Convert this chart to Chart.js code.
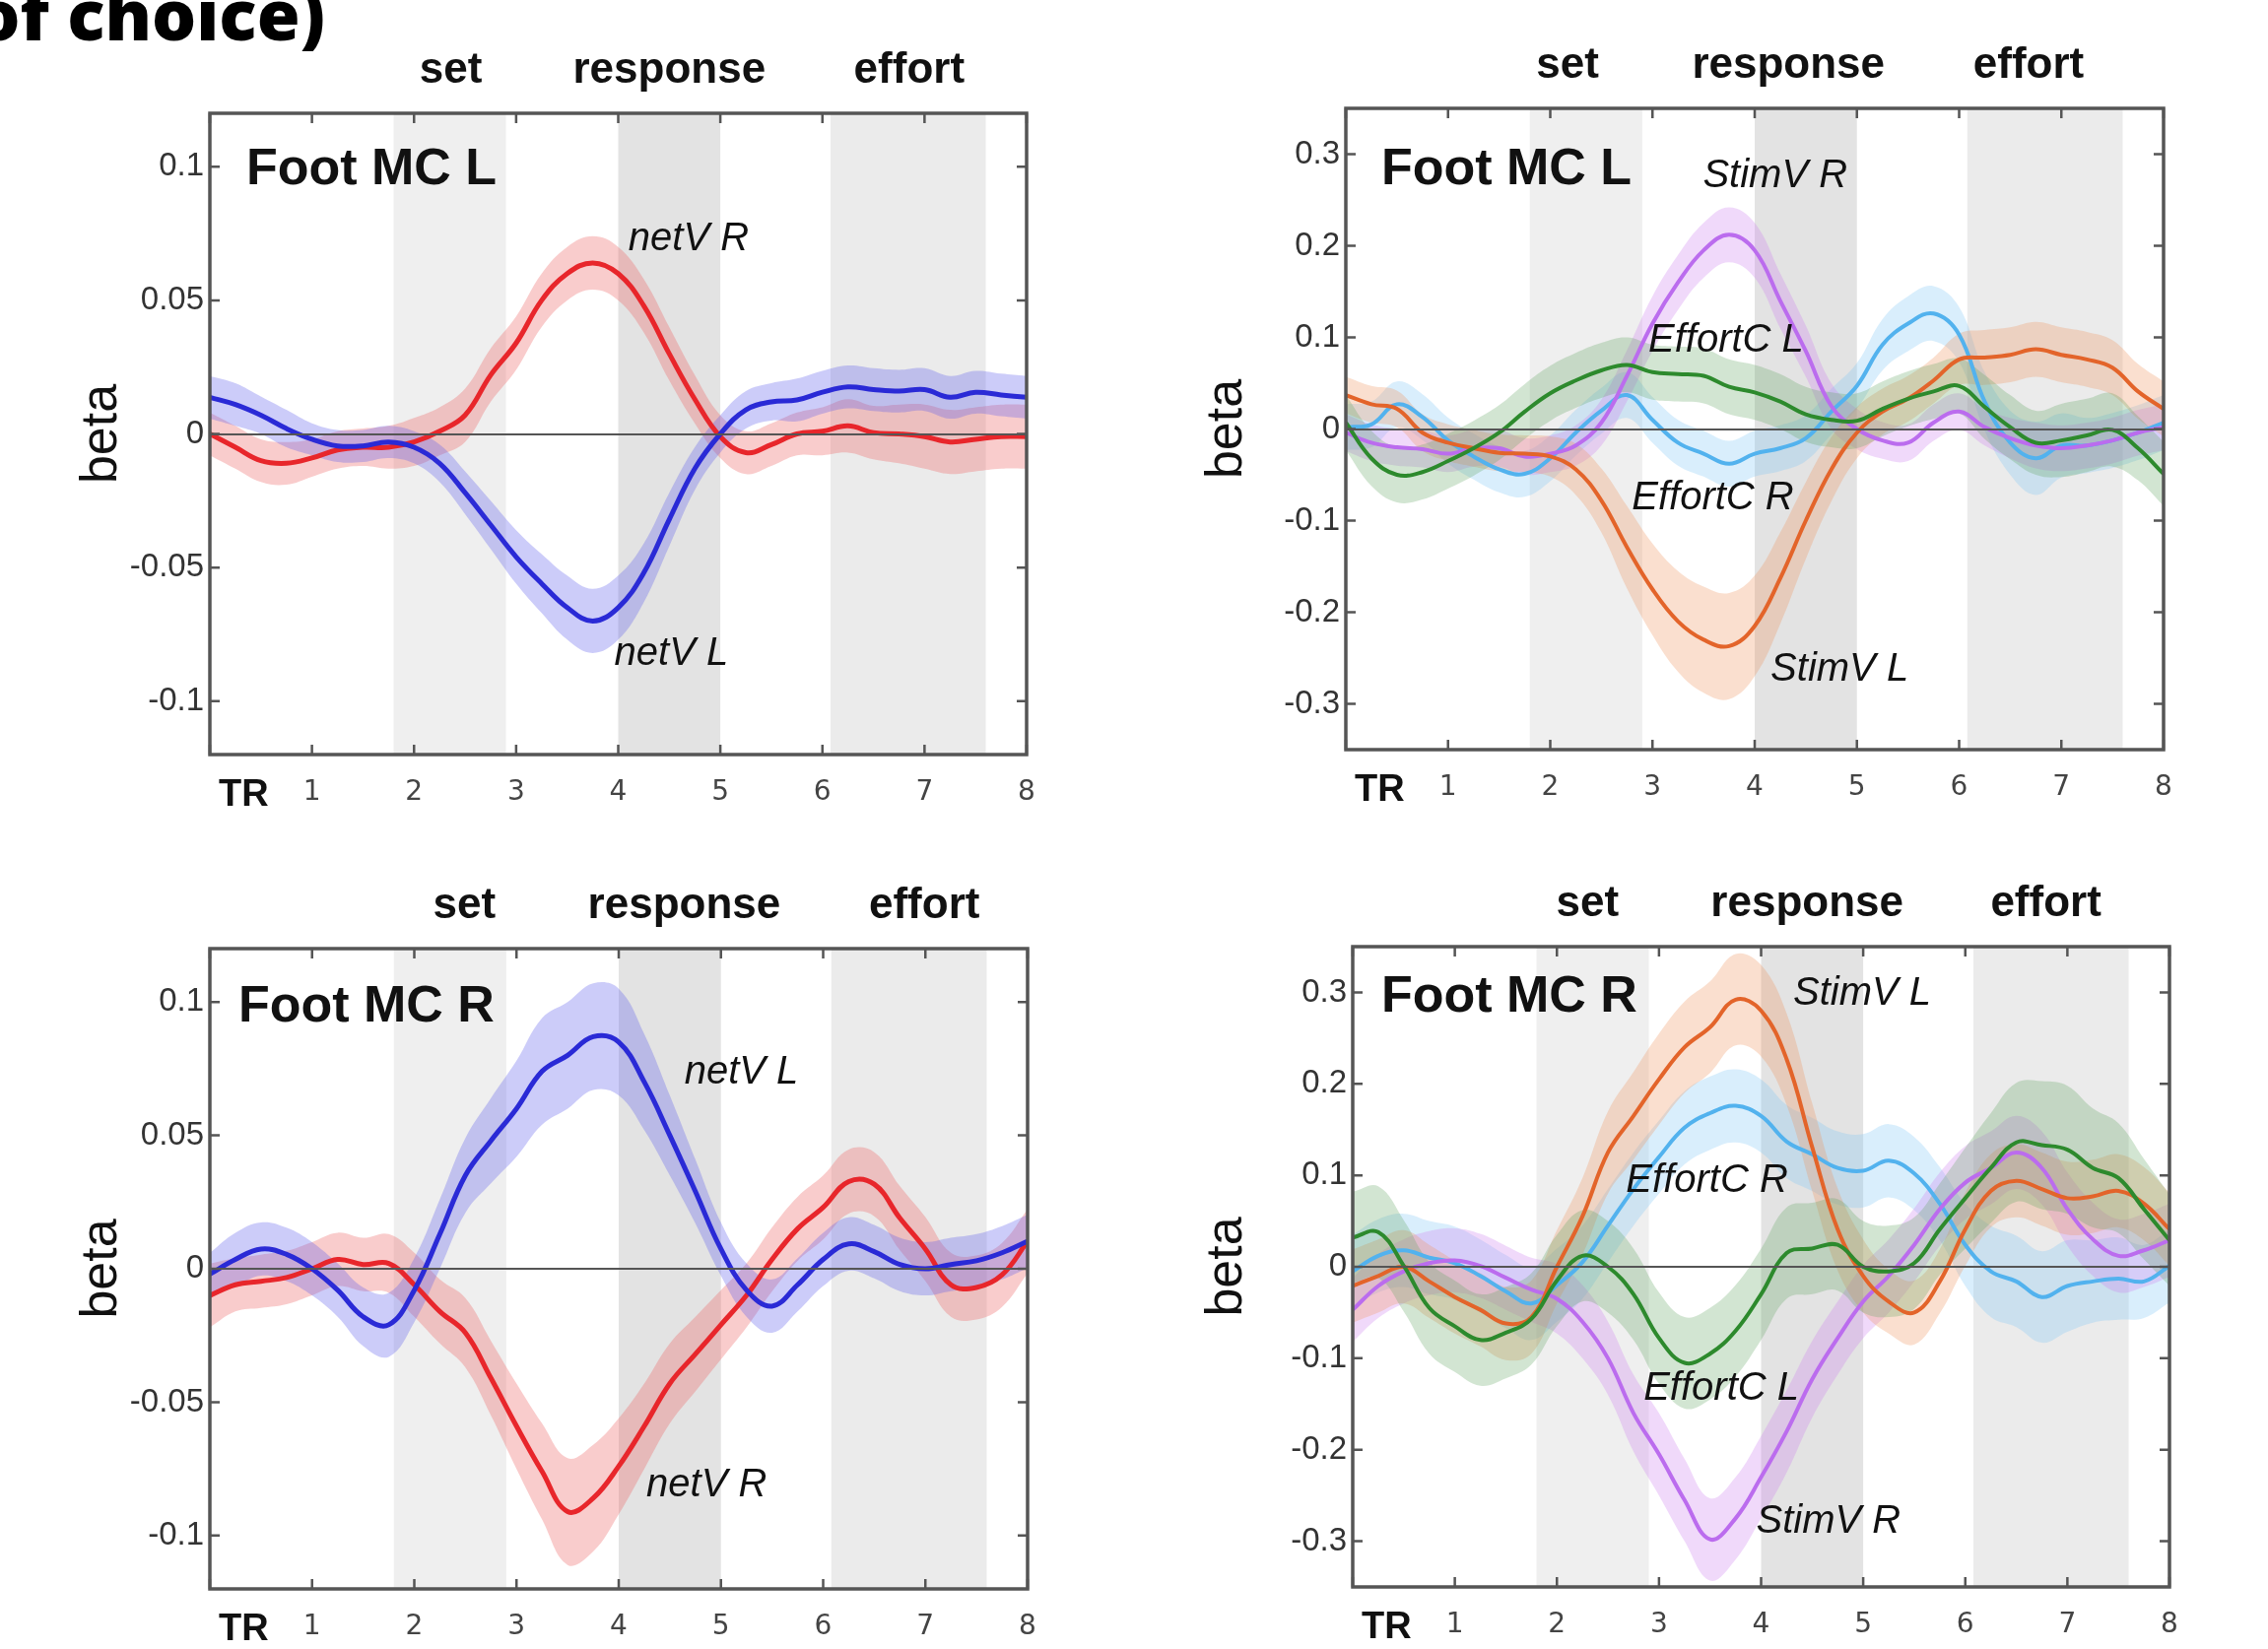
<!DOCTYPE html>
<html>
<head>
<meta charset="utf-8">
<script src="https://cdn.jsdelivr.net/npm/chart.js@4.4.1/dist/chart.umd.min.js"></script>
<style>
  html, body { margin: 0; padding: 0; background: #fff; width: 2302px; height: 1674px; overflow: hidden; position: relative; }
  .panel { position: absolute; }
  #caption { position: absolute; right: 1972px; top: -21px; font: 800 71px/70px "Open Sans", sans-serif; color: #000; white-space: nowrap; }
</style>
</head>
<body>
<div id="caption">of choice)</div>
<div class="panel" style="left:13px;top:0px;width:1061px;height:826px"><canvas id="tl"></canvas></div>
<div class="panel" style="left:1166px;top:0px;width:1062px;height:821px"><canvas id="tr"></canvas></div>
<div class="panel" style="left:13px;top:853px;width:1062px;height:820px"><canvas id="bl"></canvas></div>
<div class="panel" style="left:1173px;top:851px;width:1061px;height:820px"><canvas id="br"></canvas></div>
<script>
// time axis (TR)
const trTimes = [0, 0.25, 0.5, 0.75, 1, 1.25, 1.5, 1.75, 2, 2.25, 2.5, 2.75, 3, 3.25, 3.5, 3.75, 4,
  4.25, 4.5, 4.75, 5, 5.25, 5.5, 5.75, 6, 6.25, 6.5, 6.75, 7, 7.25, 7.5, 7.75, 8];
const trTicks = [0, 1, 2, 3, 4, 5, 6, 7, 8];
const trTickLabels = ["", "1", "2", "3", "4", "5", "6", "7", "8"];

const smallTicks = [-0.1, -0.05, 0, 0.05, 0.1];
const smallTickLabels = ["-0.1", "-0.05", "0", "0.05", "0.1"];
const bigTicks = [-0.3, -0.2, -0.1, 0, 0.1, 0.2, 0.3];
const bigTickLabels = ["-0.3", "-0.2", "-0.1", "0", "0.1", "0.2", "0.3"];

// epochs
const setSpan = [1.8, 2.9];
const responseSpan = [4.0, 5.0];
const effortSpan = [6.08, 7.6];

// Foot MC L, netV
const tlNetVR = [0, -0.005, -0.01, -0.011, -0.009, -0.006, -0.005, -0.005, -0.003, 0.001, 0.007, 0.022, 0.034,
  0.05, 0.06, 0.064, 0.06, 0.048, 0.03, 0.013, -0.001, -0.007, -0.004, 0, 0.001, 0.003, 0.0005, 0, -0.001,
  -0.003, -0.002, -0.001, -0.001];
const tlNetVRErr = [0.008, 0.008, 0.008, 0.008, 0.007, 0.007, 0.007, 0.008, 0.009, 0.009, 0.01, 0.01, 0.01,
  0.01, 0.01, 0.01, 0.01, 0.01, 0.01, 0.009, 0.008, 0.008, 0.008, 0.008, 0.009, 0.01, 0.01, 0.011, 0.012,
  0.012, 0.012, 0.012, 0.012];
const tlNetVL = [0.0137, 0.011, 0.007, 0.002, -0.002, -0.0045, -0.0045, -0.003, -0.005, -0.011, -0.022, -0.034,
  -0.046, -0.056, -0.065, -0.07, -0.065, -0.052, -0.032, -0.013, 0, 0.009, 0.012, 0.0127, 0.0156, 0.0176,
  0.0166, 0.016, 0.0166, 0.0137, 0.0156, 0.0146, 0.0137];
const tlNetVLErr = [0.008, 0.008, 0.007, 0.007, 0.006, 0.006, 0.006, 0.006, 0.006, 0.007, 0.008, 0.009, 0.01,
  0.011, 0.012, 0.012, 0.012, 0.011, 0.01, 0.008, 0.007, 0.007, 0.007, 0.008, 0.008, 0.008, 0.008, 0.008,
  0.008, 0.008, 0.008, 0.008, 0.008];

// Foot MC L, stim value / effort cost
const trStimVR = [-0.004, -0.015, -0.02, -0.022, -0.027, -0.021, -0.021, -0.03, -0.027, -0.018, 0.007, 0.058,
  0.115, 0.16, 0.195, 0.212, 0.195, 0.14, 0.085, 0.025, 0, -0.0125, -0.015, 0.007, 0.019, 0.002, -0.01,
  -0.018, -0.021, -0.018, -0.0125, -0.004, 0.002];
const trStimVRErr = [0.02, 0.02, 0.02, 0.02, 0.02, 0.02, 0.02, 0.02, 0.02, 0.022, 0.025, 0.028, 0.03, 0.03,
  0.03, 0.03, 0.03, 0.03, 0.028, 0.025, 0.022, 0.02, 0.02, 0.02, 0.02, 0.02, 0.022, 0.025, 0.025, 0.025,
  0.025, 0.025, 0.025];
const trStimVL = [0.037, 0.027, 0.022, -0.004, -0.015, -0.021, -0.026, -0.027, -0.03, -0.044, -0.078, -0.129,
  -0.175, -0.21, -0.23, -0.237, -0.215, -0.163, -0.1, -0.044, -0.004, 0.019, 0.033, 0.053, 0.076, 0.078,
  0.081, 0.087, 0.081, 0.076, 0.067, 0.041, 0.022];
const trStimVLErr = [0.02, 0.02, 0.02, 0.02, 0.02, 0.02, 0.02, 0.02, 0.022, 0.028, 0.035, 0.045, 0.05, 0.055,
  0.058, 0.058, 0.055, 0.05, 0.042, 0.035, 0.028, 0.025, 0.025, 0.025, 0.028, 0.03, 0.03, 0.03, 0.03, 0.03,
  0.03, 0.03, 0.03];
const trEffortCL = [0.007, -0.032, -0.05, -0.047, -0.035, -0.021, -0.004, 0.019, 0.039, 0.053, 0.064, 0.07,
  0.062, 0.06, 0.058, 0.046, 0.04, 0.03, 0.016, 0.01, 0.009, 0.022, 0.033, 0.041, 0.047, 0.024, 0.002,
  -0.015, -0.0125, -0.007, -0.001, -0.021, -0.049];
const trEffortCLErr = [0.03, 0.03, 0.03, 0.03, 0.03, 0.03, 0.03, 0.03, 0.03, 0.03, 0.03, 0.03, 0.03, 0.03,
  0.03, 0.03, 0.03, 0.03, 0.03, 0.03, 0.03, 0.03, 0.03, 0.03, 0.03, 0.035, 0.035, 0.035, 0.04, 0.04, 0.04,
  0.035, 0.035];
const trEffortCR = [0.002, 0.005, 0.027, 0.013, -0.0125, -0.03, -0.044, -0.049, -0.032, -0.004, 0.02, 0.037,
  0.01, -0.015, -0.027, -0.038, -0.027, -0.021, -0.01, 0.019, 0.047, 0.092, 0.115, 0.126, 0.103, 0.03,
  -0.015, -0.032, -0.018, -0.018, -0.0125, -0.004, 0.007];
const trEffortCRErr = [0.025, 0.025, 0.025, 0.025, 0.025, 0.025, 0.025, 0.025, 0.025, 0.025, 0.025, 0.025,
  0.025, 0.025, 0.025, 0.025, 0.025, 0.025, 0.025, 0.025, 0.025, 0.028, 0.03, 0.03, 0.03, 0.032, 0.035,
  0.04, 0.035, 0.03, 0.03, 0.03, 0.03];

// Foot MC R, netV
const blNetVL = [-0.002, 0.0035, 0.0074, 0.0054, 0, -0.008, -0.018, -0.021, -0.008, 0.013, 0.035, 0.048, 0.06,
  0.074, 0.08, 0.087, 0.085, 0.07, 0.05, 0.029, 0.0074, -0.008, -0.014, -0.006, 0.0035, 0.0093, 0.0064,
  0.0016, 0, 0.0016, 0.003, 0.006, 0.0103];
const blNetVLErr = [0.008, 0.01, 0.01, 0.01, 0.01, 0.01, 0.011, 0.012, 0.012, 0.013, 0.014, 0.016, 0.018, 0.02,
  0.02, 0.02, 0.02, 0.018, 0.015, 0.012, 0.01, 0.01, 0.01, 0.01, 0.01, 0.01, 0.01, 0.01, 0.01, 0.01, 0.01,
  0.01, 0.01];
const blNetVR = [-0.01, -0.006, -0.0047, -0.0033, 0, 0.0035, 0.0016, 0.002, -0.006, -0.016, -0.024, -0.041,
  -0.059, -0.076, -0.091, -0.086, -0.074, -0.059, -0.043, -0.032, -0.021, -0.01, 0.0035, 0.015, 0.023,
  0.0327, 0.0317, 0.019, 0.0074, -0.006, -0.007, -0.0023, 0.0103];
const blNetVRErr = [0.012, 0.01, 0.01, 0.01, 0.01, 0.01, 0.01, 0.011, 0.012, 0.012, 0.013, 0.014, 0.016, 0.018,
  0.02, 0.02, 0.018, 0.016, 0.015, 0.014, 0.013, 0.012, 0.012, 0.012, 0.012, 0.012, 0.012, 0.012, 0.012,
  0.012, 0.012, 0.012, 0.012];

// Foot MC R, stim value / effort cost
const brStimVL = [-0.021, -0.01, 0, -0.016, -0.033, -0.047, -0.062, -0.055, 0, 0.055, 0.125, 0.165, 0.205,
  0.24, 0.262, 0.292, 0.28, 0.227, 0.131, 0.041, -0.01, -0.038, -0.05, -0.016, 0.041, 0.083, 0.094, 0.085,
  0.075, 0.077, 0.083, 0.069, 0.041];
const brStimVLErr = [0.04, 0.04, 0.04, 0.04, 0.04, 0.04, 0.04, 0.04, 0.04, 0.042, 0.045, 0.048, 0.05, 0.05,
  0.05, 0.05, 0.05, 0.05, 0.048, 0.045, 0.04, 0.035, 0.035, 0.035, 0.04, 0.04, 0.04, 0.04, 0.04, 0.04, 0.04,
  0.04, 0.04];
const brStimVR = [-0.047, -0.021, -0.005, 0.004, 0.007, 0.001, -0.012, -0.025, -0.035, -0.06, -0.1, -0.16,
  -0.205, -0.255, -0.298, -0.275, -0.23, -0.18, -0.123, -0.078, -0.038, -0.01, 0.024, 0.063, 0.092, 0.108,
  0.125, 0.108, 0.063, 0.03, 0.012, 0.018, 0.029];
const brStimVRErr = [0.035, 0.035, 0.035, 0.035, 0.035, 0.035, 0.035, 0.035, 0.038, 0.04, 0.04, 0.042, 0.045,
  0.045, 0.045, 0.045, 0.045, 0.045, 0.042, 0.04, 0.04, 0.04, 0.04, 0.04, 0.04, 0.04, 0.04, 0.04, 0.04,
  0.04, 0.04, 0.04, 0.04];
const brEffortCL = [0.032, 0.038, 0.001, -0.045, -0.065, -0.08, -0.072, -0.057, -0.015, 0.012, 0, -0.03,
  -0.078, -0.105, -0.095, -0.07, -0.03, 0.015, 0.02, 0.024, 0, -0.005, 0.004, 0.041, 0.075, 0.108, 0.136,
  0.133, 0.128, 0.108, 0.097, 0.063, 0.029];
const brEffortCLErr = [0.05, 0.05, 0.05, 0.05, 0.05, 0.05, 0.05, 0.05, 0.05, 0.05, 0.05, 0.05, 0.05, 0.05,
  0.05, 0.05, 0.05, 0.05, 0.05, 0.05, 0.05, 0.05, 0.05, 0.05, 0.055, 0.06, 0.065, 0.07, 0.07, 0.065, 0.06,
  0.055, 0.05];
const brEffortCR = [-0.005, 0.012, 0.018, 0.01, 0.004, -0.01, -0.027, -0.04, -0.02, 0.005, 0.045, 0.085, 0.12,
  0.152, 0.168, 0.176, 0.165, 0.137, 0.123, 0.108, 0.105, 0.116, 0.102, 0.069, 0.024, -0.005, -0.016,
  -0.033, -0.021, -0.016, -0.013, -0.016, 0.001];
const brEffortCRErr = [0.04, 0.04, 0.04, 0.04, 0.04, 0.04, 0.04, 0.04, 0.04, 0.04, 0.04, 0.04, 0.04, 0.04,
  0.04, 0.04, 0.04, 0.04, 0.04, 0.04, 0.04, 0.04, 0.04, 0.04, 0.045, 0.05, 0.05, 0.05, 0.05, 0.045, 0.045,
  0.04, 0.04];

const RED = { line: "#e8262b", band: "rgba(238,105,105,0.34)" };
const BLUE = { line: "#2a2ad6", band: "rgba(95,95,235,0.32)" };
const PURPLE = { line: "#bb6cee", band: "rgba(205,130,240,0.3)" };
const ORANGE = { line: "#e3642a", band: "rgba(238,150,95,0.3)" };
const GREEN = { line: "#2d8a2d", band: "rgba(95,160,95,0.28)" };
const SKY = { line: "#52b2ee", band: "rgba(130,200,245,0.3)" };

const FONT = "'Liberation Sans', Arial, sans-serif";

function drawText(ctx, text, x, y, font, align) {
  ctx.font = font;
  ctx.textAlign = align;
  ctx.textBaseline = "middle";
  ctx.fillStyle = "#111";
  ctx.fillText(text, x, y);
}

const decor = {
  id: "decor",
  beforeDraw(chart, args, o) {
    const { ctx, chartArea: a, scales: { x } } = chart;
    ctx.save();
    [[setSpan, "#efefef"], [responseSpan, "#e3e3e3"], [effortSpan, "#ebebeb"]].forEach(([span, color]) => {
      const x0 = x.getPixelForValue(span[0]);
      const x1 = x.getPixelForValue(span[1]);
      ctx.fillStyle = color;
      ctx.fillRect(x0, a.top, x1 - x0, a.bottom - a.top);
    });
    ctx.restore();
  },
  afterDraw(chart, args, o) {
    const { ctx, chartArea: a, scales: { x, y } } = chart;
    ctx.save();
    // box and inward ticks
    ctx.strokeStyle = "#555";
    ctx.lineWidth = 3.5;
    ctx.strokeRect(a.left, a.top, a.right - a.left, a.bottom - a.top);
    ctx.lineWidth = 2.5;
    ctx.beginPath();
    x.ticks.forEach(t => {
      const px = x.getPixelForValue(t.value);
      ctx.moveTo(px, a.bottom); ctx.lineTo(px, a.bottom - 10);
      ctx.moveTo(px, a.top); ctx.lineTo(px, a.top + 10);
    });
    y.ticks.forEach(t => {
      const py = y.getPixelForValue(t.value);
      ctx.moveTo(a.left, py); ctx.lineTo(a.left + 10, py);
      ctx.moveTo(a.right, py); ctx.lineTo(a.right - 10, py);
    });
    ctx.stroke();

    o.headers.forEach(h => drawText(ctx, h.text, x.getPixelForValue(h.x), a.top - 43, "bold 44px " + FONT, "center"));
    drawText(ctx, o.title, a.left + o.titleDx, a.top + o.titleDy, "bold 52px " + FONT, "left");
    o.notes.forEach(n => drawText(ctx, n.text, x.getPixelForValue(n.x), y.getPixelForValue(n.y), "italic 40px " + FONT, "center"));
    drawText(ctx, "TR", a.left + 9, a.bottom + 42, "bold 38px " + FONT, "left");
    ctx.restore();
  }
};

function makePanel(id, cfg) {
  const datasets = [];
  cfg.series.forEach(s => {
    datasets.push({
      label: s.label,
      data: trTimes.map((t, i) => ({ x: t, y: s.mean[i] })),
      borderColor: s.color.line, borderWidth: cfg.lineWidth,
      pointRadius: 0, tension: 0.4, fill: false
    });
  });
  cfg.series.forEach(s => {
    datasets.push({
      label: s.label + " upper",
      data: trTimes.map((t, i) => ({ x: t, y: s.mean[i] + s.err[i] })),
      borderColor: "transparent", borderWidth: 0, backgroundColor: s.color.band,
      pointRadius: 0, tension: 0.4, fill: "+1"
    });
    datasets.push({
      label: s.label + " lower",
      data: trTimes.map((t, i) => ({ x: t, y: s.mean[i] - s.err[i] })),
      borderColor: "transparent", borderWidth: 0,
      pointRadius: 0, tension: 0.4, fill: false
    });
  });

  return new Chart(document.getElementById(id).getContext("2d"), {
    type: "line",
    data: { datasets },
    plugins: [decor],
    options: {
      responsive: true,
      maintainAspectRatio: false,
      animation: false,
      layout: { padding: { left: 0, top: cfg.padTop, right: 32, bottom: 0 } },
      plugins: {
        legend: { display: false },
        tooltip: { enabled: false },
        decor: cfg.decor
      },
      scales: {
        x: {
          type: "linear", min: 0, max: 8,
          afterBuildTicks: s => { s.ticks = trTicks.map(v => ({ value: v })); },
          afterFit: s => { s.height = 60; },
          ticks: {
            callback: (v, i) => trTickLabels[i],
            color: "#444", font: { family: "'DejaVu Sans'", size: 28 },
            padding: 22, maxRotation: 0, autoSkip: false
          },
          grid: { display: false, drawTicks: false },
          border: { display: false }
        },
        y: {
          min: cfg.yMin, max: cfg.yMax,
          afterBuildTicks: s => { s.ticks = cfg.yTicks.map(v => ({ value: v })); },
          afterFit: s => { s.width = 200; },
          ticks: {
            callback: (v, i) => cfg.yLabels[i],
            color: "#333", font: { family: FONT, size: 33 }, padding: 6
          },
          grid: {
            z: 1, drawTicks: false, lineWidth: 2,
            color: c => (c.tick && c.tick.value === 0 ? "#555" : "rgba(0,0,0,0)")
          },
          border: { display: false },
          title: {
            display: true, text: "beta", color: "#111",
            font: { family: FONT, size: 52 }, padding: { top: cfg.betaPad, bottom: 0 }
          }
        }
      }
    }
  });
}

makePanel("tl", {
  padTop: 115, lineWidth: 5, yMin: -0.12, yMax: 0.12, yTicks: smallTicks, yLabels: smallTickLabels, betaPad: 59,
  series: [
    { label: "netV L", mean: tlNetVL, err: tlNetVLErr, color: BLUE },
    { label: "netV R", mean: tlNetVR, err: tlNetVRErr, color: RED }
  ],
  decor: {
    title: "Foot MC L", titleDx: 37, titleDy: 58,
    headers: [{ text: "set", x: 2.36 }, { text: "response", x: 4.5 }, { text: "effort", x: 6.85 }],
    notes: [{ text: "netV R", x: 4.69, y: 0.073 }, { text: "netV L", x: 4.52, y: -0.0825 }]
  }
});

makePanel("tr", {
  padTop: 110, lineWidth: 4, yMin: -0.35, yMax: 0.35, yTicks: bigTicks, yLabels: bigTickLabels, betaPad: 48,
  series: [
    { label: "EffortC L", mean: trEffortCL, err: trEffortCLErr, color: GREEN },
    { label: "StimV L", mean: trStimVL, err: trStimVLErr, color: ORANGE },
    { label: "StimV R", mean: trStimVR, err: trStimVRErr, color: PURPLE },
    { label: "EffortC R", mean: trEffortCR, err: trEffortCRErr, color: SKY }
  ],
  decor: {
    title: "Foot MC L", titleDx: 36, titleDy: 63,
    headers: [{ text: "set", x: 2.17 }, { text: "response", x: 4.33 }, { text: "effort", x: 6.68 }],
    notes: [
      { text: "StimV R", x: 4.2, y: 0.276 },
      { text: "EffortC L", x: 3.72, y: 0.096 },
      { text: "EffortC R", x: 3.59, y: -0.076 },
      { text: "StimV L", x: 4.83, y: -0.263 }
    ]
  }
});

makePanel("bl", {
  padTop: 110, lineWidth: 5, yMin: -0.12, yMax: 0.12, yTicks: smallTicks, yLabels: smallTickLabels, betaPad: 59,
  series: [
    { label: "netV L", mean: blNetVL, err: blNetVLErr, color: BLUE },
    { label: "netV R", mean: blNetVR, err: blNetVRErr, color: RED }
  ],
  decor: {
    title: "Foot MC R", titleDx: 29, titleDy: 60,
    headers: [{ text: "set", x: 2.49 }, { text: "response", x: 4.64 }, { text: "effort", x: 6.99 }],
    notes: [{ text: "netV L", x: 5.2, y: 0.0735 }, { text: "netV R", x: 4.86, y: -0.081 }]
  }
});

makePanel("br", {
  padTop: 110, lineWidth: 4, yMin: -0.35, yMax: 0.35, yTicks: bigTicks, yLabels: bigTickLabels, betaPad: 41,
  series: [
    { label: "EffortC L", mean: brEffortCL, err: brEffortCLErr, color: GREEN },
    { label: "StimV L", mean: brStimVL, err: brStimVLErr, color: ORANGE },
    { label: "StimV R", mean: brStimVR, err: brStimVRErr, color: PURPLE },
    { label: "EffortC R", mean: brEffortCR, err: brEffortCRErr, color: SKY }
  ],
  decor: {
    title: "Foot MC R", titleDx: 29, titleDy: 52,
    headers: [{ text: "set", x: 2.3 }, { text: "response", x: 4.45 }, { text: "effort", x: 6.79 }],
    notes: [
      { text: "StimV L", x: 4.99, y: 0.298 },
      { text: "EffortC R", x: 3.47, y: 0.094 },
      { text: "EffortC L", x: 3.61, y: -0.133 },
      { text: "StimV R", x: 4.66, y: -0.279 }
    ]
  }
});
</script>
</body>
</html>
